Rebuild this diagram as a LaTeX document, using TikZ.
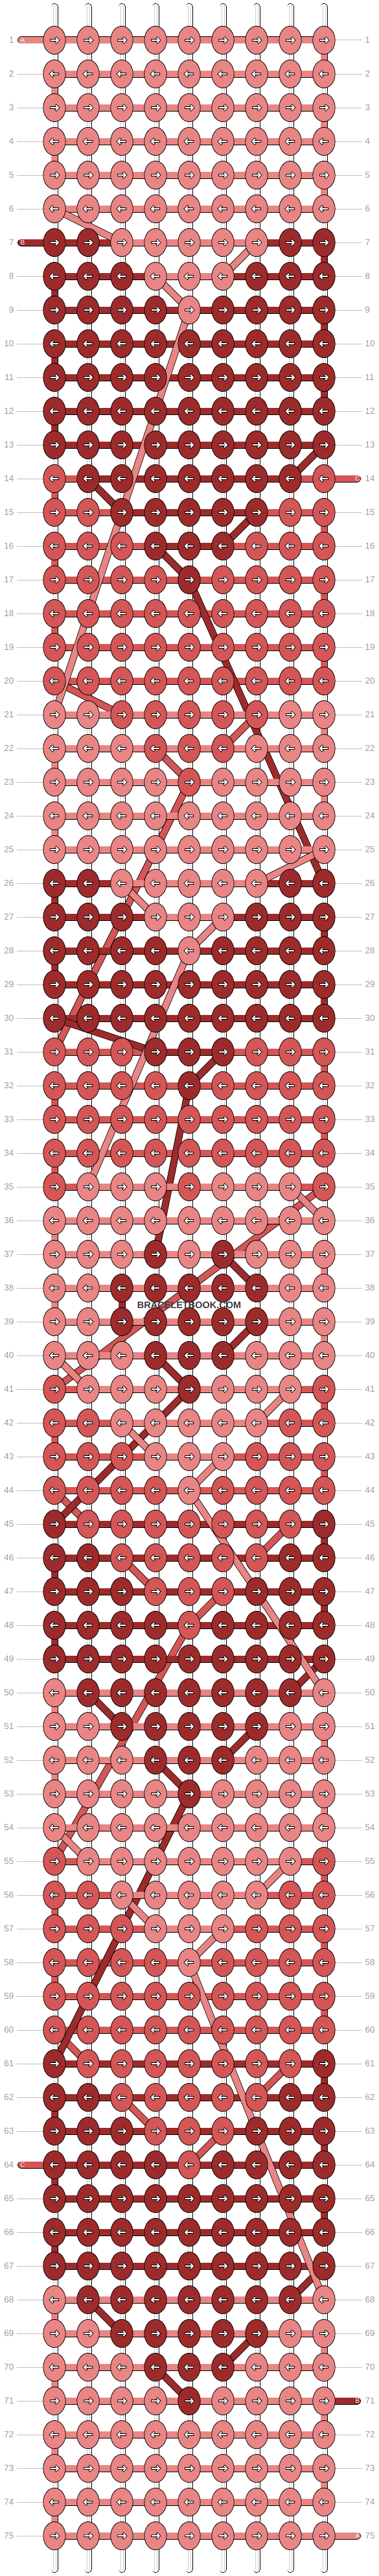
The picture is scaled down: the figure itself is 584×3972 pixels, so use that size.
\documentclass[tikz,border=0pt]{standalone}
\usepackage{fontspec}
\setmainfont{Liberation Sans}
\usetikzlibrary{shapes.geometric}
\definecolor{strA}{HTML}{E98585}
\definecolor{strB}{HTML}{9E2B2B}
\definecolor{strC}{HTML}{D55656}
\definecolor{guide}{HTML}{C0C0C0}
\definecolor{rownum}{HTML}{9A9A9A}
\definecolor{core}{HTML}{CDCDCD}
\tikzset{
  knot/.style={ellipse,draw=black,line width=0.8pt,minimum width=34.4pt,minimum height=43.4pt,inner sep=0pt},
  band/.style={draw=black,line width=0.8pt,double=#1,double distance=9.4pt},
  stub/.style={band=#1,line cap=round},
  rowlabel/.style={text=rownum,font=\fontsize{13.5}{13.5}\selectfont,inner sep=0pt},
  strlabel/.style={text=white,font=\fontsize{10}{10}\selectfont,inner sep=0pt},
  knotarrow/.pic={
    \draw[line width=3.6pt,line join=miter] (-7,0) -- (6,0) (1.5,-4.5) -- (6,0) -- (1.5,4.5);
    \draw[white,line width=1.8pt,line join=miter] (-6.2,0) -- (6,0) (2.1,-3.9) -- (6,0) -- (2.1,3.9);
  }
}
% one string, knot to knot in working order
\newcommand\tracestring[1]{%
  \gdef\lastr{0}\gdef\lastk{0}%
  \foreach \sidx in {0,...,674} {
    \pgfmathtruncatemacro\ridx{div(\sidx,9)+1}
    \pgfmathtruncatemacro\iidx{mod(\sidx,9)}
    \ifodd\ridx\relax\pgfmathtruncatemacro\kidx{\iidx+1}\else\pgfmathtruncatemacro\kidx{9-\iidx}\fi
    \edef\kcol{\csname kc-\ridx-\kidx\endcsname}
    \edef\want{#1}
    \ifx\kcol\want
      \ifnum\lastr>0 \draw[band=str#1] (p-\lastr-\lastk) -- (p-\ridx-\kidx);\fi
      \xdef\lastr{\ridx}\xdef\lastk{\kidx}
    \fi
  }%
}
\begin{document}
\begin{tikzpicture}[x=1pt,y=-1pt,line join=round]
\useasboundingbox (0,0) rectangle (584,3972);
\foreach \pat [count=\ridx] in {
{A,A,A,A,A,A,A,A,A},{A,A,A,A,A,A,A,A,A},{A,A,A,A,A,A,A,A,A},{A,A,A,A,A,A,A,A,A},{A,A,A,A,A,A,A,A,A},
{A,A,A,A,A,A,A,A,A},{B,B,A,A,A,A,A,B,B},{B,B,B,A,A,A,B,B,B},{B,B,B,B,A,B,B,B,B},{B,B,B,B,B,B,B,B,B},
{B,B,B,B,B,B,B,B,B},{B,B,B,B,B,B,B,B,B},{B,B,B,B,B,B,B,B,B},{C,B,B,B,B,B,B,B,C},{C,C,B,B,B,B,B,C,C},
{C,C,C,B,B,B,C,C,C},{C,C,C,C,B,C,C,C,C},{C,C,C,C,C,C,C,C,C},{C,C,C,C,C,C,C,C,C},{C,C,C,C,C,C,C,C,C},
{A,A,C,C,C,C,C,A,A},{A,A,A,C,C,C,A,A,A},{A,A,A,A,C,A,A,A,A},{A,A,A,A,A,A,A,A,A},{A,A,A,A,A,A,A,A,A},
{B,B,A,A,A,A,A,B,B},{B,B,B,A,A,A,B,B,B},{B,B,B,B,A,B,B,B,B},{B,B,B,B,B,B,B,B,B},{B,B,B,B,B,B,B,B,B},
{C,C,C,B,B,B,C,C,C},{C,C,C,C,B,C,C,C,C},{C,C,C,C,C,C,C,C,C},{C,C,C,C,C,C,C,C,C},{C,A,A,A,C,A,A,A,C},
{A,A,A,A,A,A,A,A,A},{A,A,A,B,A,B,A,A,A},{A,A,B,B,B,B,B,A,A},{A,A,B,B,B,B,B,A,A},{A,A,A,B,B,B,A,A,A},
{C,A,A,A,B,A,A,A,C},{C,C,A,A,A,A,A,C,C},{C,C,C,A,A,A,C,C,C},{C,C,C,C,A,C,C,C,C},{B,C,C,C,C,C,C,C,B},
{B,B,C,C,C,C,C,B,B},{B,B,B,C,C,C,B,B,B},{B,B,B,B,C,B,B,B,B},{B,B,B,B,B,B,B,B,B},{A,B,B,B,B,B,B,B,A},
{A,A,B,B,B,B,B,A,A},{A,A,A,B,B,B,A,A,A},{A,A,A,A,B,A,A,A,A},{A,A,A,A,A,A,A,A,A},{C,A,A,A,A,A,A,A,C},
{C,C,A,A,A,A,A,C,C},{C,C,C,A,A,A,C,C,C},{C,C,C,C,A,C,C,C,C},{C,C,C,C,C,C,C,C,C},{C,C,C,C,C,C,C,C,C},
{B,C,C,C,C,C,C,C,B},{B,B,C,C,C,C,C,B,B},{B,B,B,C,C,C,B,B,B},{B,B,B,B,C,B,B,B,B},{B,B,B,B,B,B,B,B,B},
{B,B,B,B,B,B,B,B,B},{B,B,B,B,B,B,B,B,B},{A,B,B,B,B,B,B,B,A},{A,A,B,B,B,B,B,A,A},{A,A,A,B,B,B,A,A,A},
{A,A,A,A,B,A,A,A,A},{A,A,A,A,A,A,A,A,A},{A,A,A,A,A,A,A,A,A},{A,A,A,A,A,A,A,A,A},{A,A,A,A,A,A,A,A,A}}{
  \foreach \kc [count=\kidx] in \pat {
    \expandafter\xdef\csname kc-\ridx-\kidx\endcsname{\kc}
    \coordinate (p-\ridx-\kidx) at ({32+52*\kidx},{10+52*\ridx});
  }
}
\foreach \ridx in {1,...,75} {
  \draw[guide,line width=1pt] (26,{10+52*\ridx}) -- (67,{10+52*\ridx});
  \draw[guide,line width=1pt] (517,{10+52*\ridx}) -- (559,{10+52*\ridx});
}
\foreach \kidx in {1,...,9} {
  \draw[line width=11pt,line cap=round] ({32+52*\kidx},10.5) -- ({32+52*\kidx},3961.5);
  \draw[white,line width=9.4pt,line cap=round] ({32+52*\kidx},10.5) -- ({32+52*\kidx},3961.5);
  \draw[core,line width=0.8pt] ({30+52*\kidx},9) -- ({30+52*\kidx},3963);
  \draw[core,line width=0.8pt] ({34+52*\kidx},9) -- ({34+52*\kidx},3963);
}
% strings in and out
\coordinate (inA) at (32.5,62);
\coordinate (inB) at (32.5,374);
\coordinate (inC) at (551.5,738);
\coordinate (outC) at (32.5,3338);
\coordinate (outB) at (551.5,3702);
\coordinate (outA) at (551.5,3910);
\draw[stub=strC] (inC) -- (p-14-9);
\draw[stub=strC] (p-64-5) -- (outC);
\tracestring{C}
\draw[stub=strB] (inB) -- (p-7-1);
\draw[stub=strB] (p-71-5) -- (outB);
\tracestring{B}
\draw[stub=strA] (inA) -- (p-1-1);
\draw[stub=strA] (p-75-9) -- (outA);
\tracestring{A}
\foreach \ridx in {1,...,75} {
  \ifodd\ridx\def\dir{1}\else\def\dir{-1}\fi
  \foreach \kidx in {1,...,9} {
    \edef\kcol{\csname kc-\ridx-\kidx\endcsname}
    \node[knot,fill=str\kcol] (k-\ridx-\kidx) at (p-\ridx-\kidx) {};
    \pic[xscale=\dir] at (p-\ridx-\kidx) {knotarrow};
  }
  \node[rowlabel,anchor=east] (ln-\ridx) at (21.5,{10+52*\ridx}) {\ridx};
  \node[rowlabel,anchor=west] (rn-\ridx) at (563.5,{10+52*\ridx}) {\ridx};
}
\node[strlabel] (tA1) at (35,62) {A};
\node[strlabel] (tB1) at (35,374) {B};
\node[strlabel] (tC1) at (552,738) {C};
\node[strlabel] (tC2) at (35,3338) {C};
\node[strlabel] (tB2) at (552,3702) {B};
\node[strlabel] (tA2) at (552,3910) {A};
\node[text=black!78,font=\bfseries\fontsize{14.5}{14.5}\selectfont,inner sep=0pt] (mark) at (292,2012) {BRACELETBOOK.COM};
\end{tikzpicture}
\end{document}
